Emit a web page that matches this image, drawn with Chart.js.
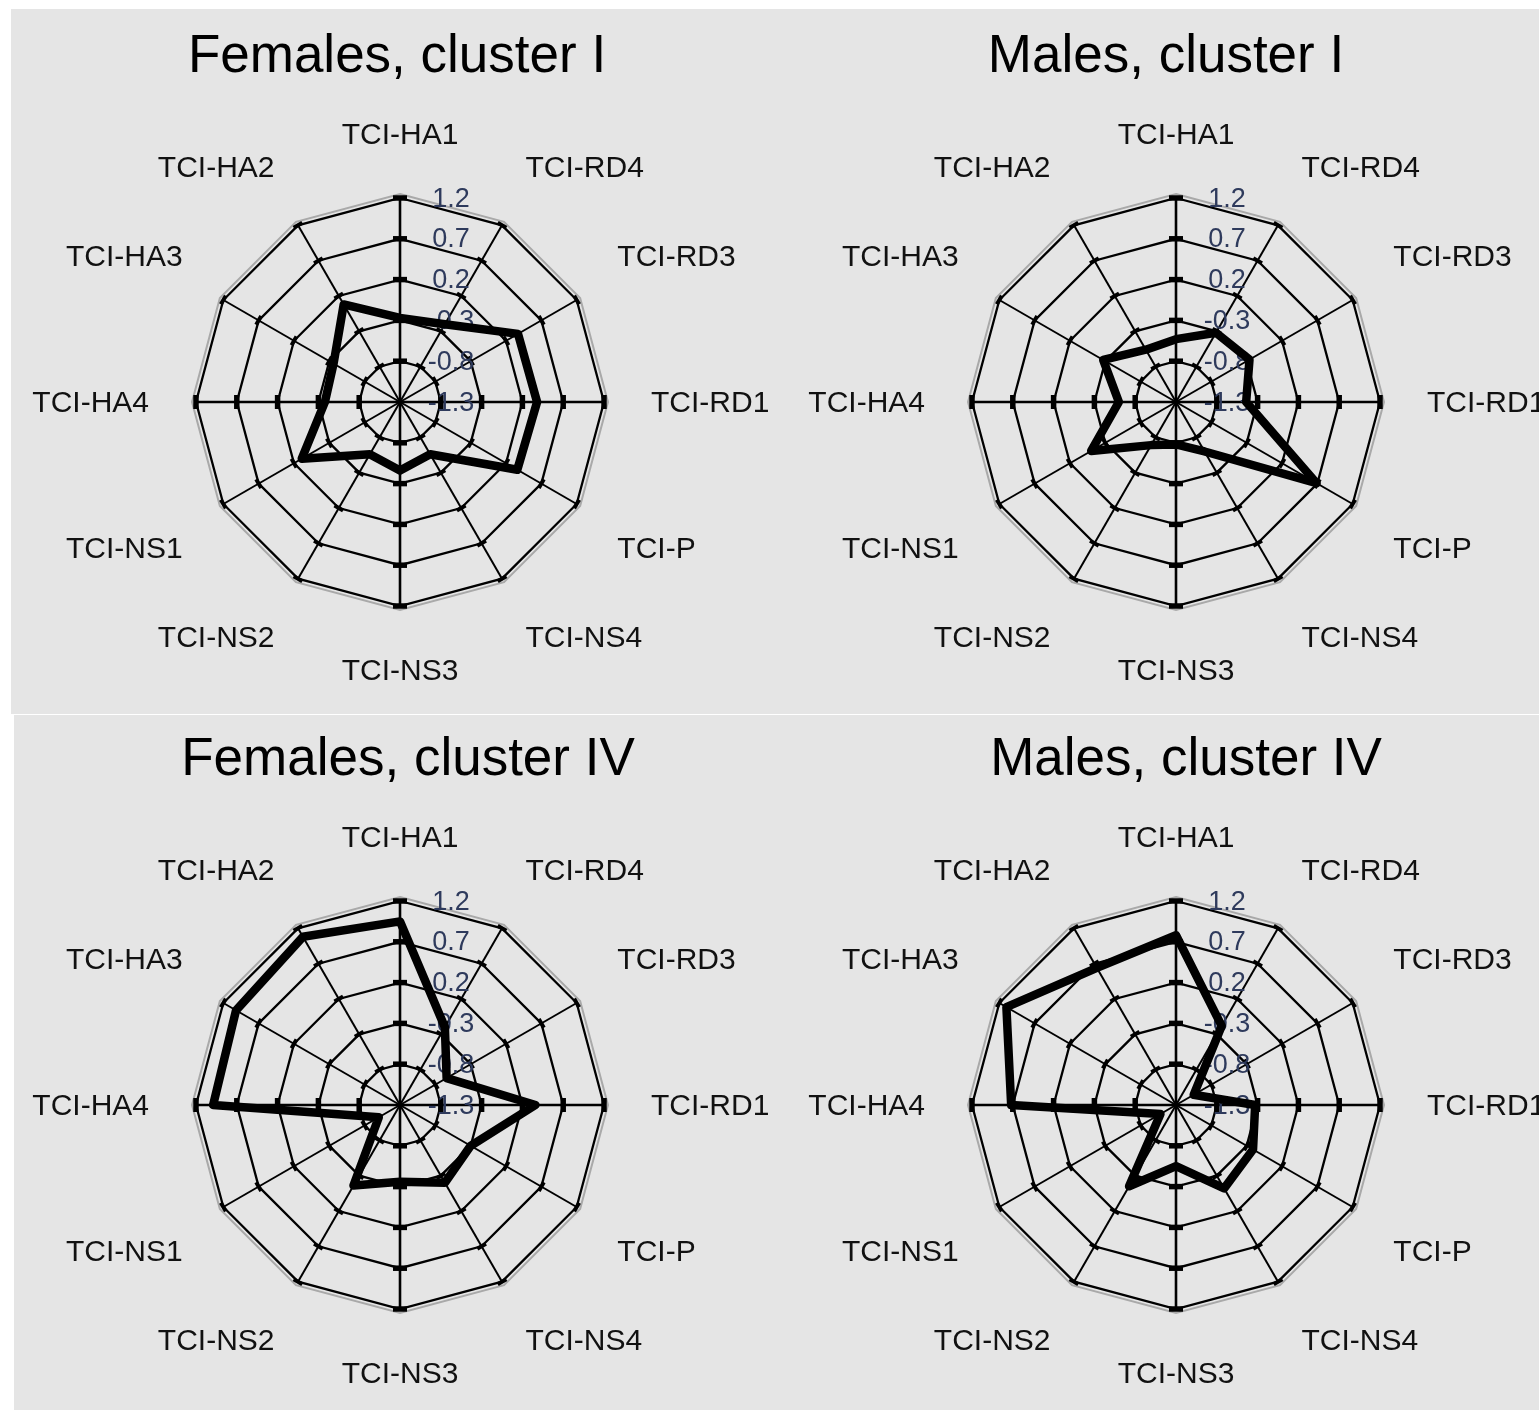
<!DOCTYPE html>
<html>
<head>
<meta charset="utf-8">
<title>TCI radar profiles</title>
<script src="https://cdn.jsdelivr.net/npm/chart.js@4.4.1/dist/chart.umd.min.js"></script>
<style>
  html, body { margin: 0; padding: 0; background: #fff; }
  body { position: relative; width: 1539px; height: 1410px; overflow: hidden; }
  .panel { position: absolute; background: #e5e5e5; }
  #topPanel { left: 11px; top: 9px; width: 1528px; height: 705px; }
  #bottomPanel { left: 14px; top: 715px; width: 1525px; height: 695px; }
  canvas { position: absolute; }
</style>
</head>
<body>
<div class="panel" id="topPanel"></div>
<div class="panel" id="bottomPanel"></div>
<canvas id="femI" width="800" height="760"></canvas>
<canvas id="malI" width="800" height="760"></canvas>
<canvas id="femIV" width="800" height="760"></canvas>
<canvas id="malIV" width="800" height="760"></canvas>
<script>
// spokes, clockwise from the top
const axisLabels = ['TCI-HA1', 'TCI-RD4', 'TCI-RD3', 'TCI-RD1', 'TCI-P', 'TCI-NS4',
                    'TCI-NS3', 'TCI-NS2', 'TCI-NS1', 'TCI-HA4', 'TCI-HA3', 'TCI-HA2'];
// ring values, centre to edge
const tickValues = [-1.3, -0.8, -0.3, 0.2, 0.7, 1.2];

// cluster means per scale
const femalesClusterI  = [-0.27, -0.20, 0.37, 0.38, 0.36, -0.56, -0.46, -0.56, 0.09, -0.38, -0.36, 0.08];
const malesClusterI    = [-0.53, -0.32, -0.26, -0.44, 0.69, -0.60, -0.78, -0.69, -0.10, -0.60, -0.27, -0.56];
const femalesClusterIV = [0.95, -0.20, -0.64, 0.36, -0.30, -0.20, -0.36, -0.16, -1.00, 0.99, 1.02, 1.08];
const malesClusterIV   = [0.78, -0.18, -1.05, -0.33, -0.21, -0.12, -0.55, -0.15, -1.08, 0.72, 1.10, 0.64];

const FONT = '"Liberation Sans", Arial, Helvetica, sans-serif';

const panels = [
  { id: 'femI',  title: 'Females, cluster I',  values: femalesClusterI,  cx: 400,  cy: 402,  shift: -3 },
  { id: 'malI',  title: 'Males, cluster I',    values: malesClusterI,    cx: 1176, cy: 402,  shift: -10 },
  { id: 'femIV', title: 'Females, cluster IV', values: femalesClusterIV, cx: 400,  cy: 1105, shift: 8 },
  { id: 'malIV', title: 'Males, cluster IV',   values: malesClusterIV,   cx: 1176, cy: 1105, shift: 10 }
];

// text drawn with its cap height centred on y
function capText(ctx, txt, x, y, size) {
  ctx.textBaseline = 'alphabetic';
  ctx.fillText(txt, x, y + size * 0.716 / 2);
}

const radarDecor = {
  id: 'radarDecor',
  beforeDatasetsDraw(chart) {
    const ctx = chart.ctx;
    const r = chart.scales.r;
    const n = chart.data.labels.length;
    ctx.save();

    // light halo just outside the outer ring
    ctx.strokeStyle = '#a9a9a9';
    ctx.lineWidth = 2;
    ctx.beginPath();
    for (let i = 0; i < n; i++) {
      const p = r.getPointPosition(i, r.drawingArea + 4);
      if (i === 0) ctx.moveTo(p.x, p.y); else ctx.lineTo(p.x, p.y);
    }
    ctx.closePath();
    ctx.stroke();

    // heavy ticks where each ring crosses a spoke
    ctx.strokeStyle = '#000';
    tickValues.slice(1).forEach(v => {
      const d = r.getDistanceFromCenterForValue(v);
      for (let i = 0; i < n; i++) {
        const p = r.getPointPosition(i, d);
        const a = r.getIndexAngle(i);
        const main = i % 3 === 0;
        const half = main ? 7 : 5;
        ctx.lineWidth = main ? 5.5 : 4;
        const tx = Math.cos(a) * half, ty = Math.sin(a) * half;
        ctx.beginPath();
        ctx.moveTo(p.x - tx, p.y - ty);
        ctx.lineTo(p.x + tx, p.y + ty);
        ctx.stroke();
      }
    });

    // ring values beside the top spoke (the profile is drawn over them)
    ctx.fillStyle = '#2e3a5c';
    ctx.font = '27px ' + FONT;
    ctx.textAlign = 'center';
    tickValues.forEach(v => {
      const d = r.getDistanceFromCenterForValue(v);
      capText(ctx, v.toFixed(1), r.xCenter + 51, r.yCenter - d, 24);
    });
    ctx.restore();
  },
  afterDraw(chart, args, opts) {
    const ctx = chart.ctx;
    const r = chart.scales.r;
    ctx.save();
    ctx.fillStyle = '#111';
    ctx.textAlign = 'center';

    // spoke names, pushed outward from the outer ring
    const size = 30;
    ctx.font = size + 'px ' + FONT;
    chart.data.labels.forEach((lab, i) => {
      const a = r.getIndexAngle(i);
      const s = Math.sin(a), c = Math.cos(a);
      let x = r.xCenter + s * (r.drawingArea + 47);
      let y = r.yCenter - c * (r.drawingArea + 40);
      const w = ctx.measureText(lab).width;
      if (Math.abs(s) > 0.01) x += Math.sign(s) * w / 2;
      if (Math.abs(c) > 0.01) y -= Math.sign(c) * 24;
      capText(ctx, lab, x, y, 28);
    });

    // panel heading
    ctx.fillStyle = '#000';
    ctx.font = '53px ' + FONT;
    ctx.textBaseline = 'alphabetic';
    ctx.fillText(opts.title, r.xCenter + opts.shift, r.yCenter - 330);
    ctx.restore();
  }
};

panels.forEach(pn => {
  const canvas = document.getElementById(pn.id);
  canvas.style.left = (pn.cx - 400) + 'px';
  canvas.style.top = (pn.cy - 400) + 'px';

  new Chart(canvas, {
    type: 'radar',
    data: {
      labels: axisLabels,
      datasets: [{
        data: pn.values,
        borderColor: '#000',
        borderWidth: 8.5,
        borderJoinStyle: 'round',
        fill: false,
        pointRadius: 0,
        pointHoverRadius: 0,
        tension: 0
      }]
    },
    options: {
      responsive: false,
      animation: false,
      events: [],
      layout: { padding: { left: 196, right: 196, top: 196, bottom: 156 } },
      plugins: {
        legend: { display: false },
        tooltip: { enabled: false },
        radarDecor: { title: pn.title, shift: pn.shift }
      },
      scales: {
        r: {
          min: -1.3,
          max: 1.2,
          afterBuildTicks: scale => {
            scale.ticks = tickValues.map(v => ({ value: v }));
          },
          ticks: { display: false },
          pointLabels: { display: false },
          grid: { color: '#000', lineWidth: 2.3 },
          angleLines: {
            color: '#000',
            lineWidth: ctx => (ctx.index % 3 === 0 ? 2.6 : 2)
          }
        }
      }
    },
    plugins: [radarDecor]
  });
});
</script>
</body>
</html>
